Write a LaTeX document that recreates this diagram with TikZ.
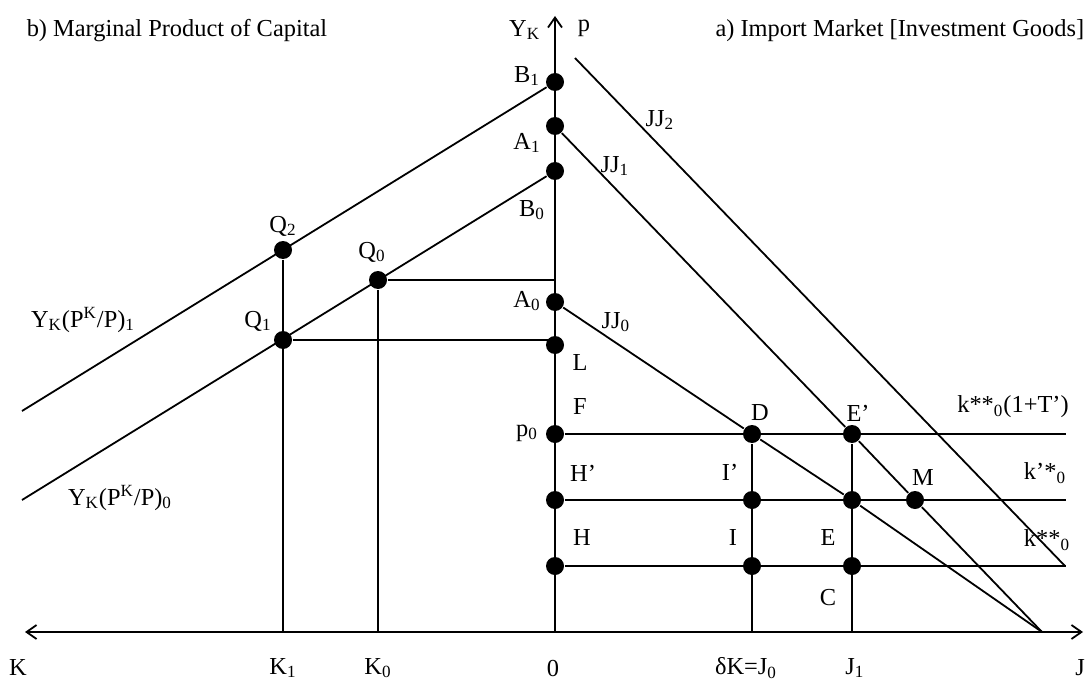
\documentclass[tikz,border=0pt]{standalone}
\usepackage{fontspec}
\setmainfont{Liberation Serif}
\usetikzlibrary{arrows.meta}
\tikzstyle{eqdot} = [circle, fill=black, inner sep=0pt, minimum size=9pt]
\tikzstyle{arrow} = [-{Straight Barb[length=5pt,width=7pt]}]
\tikzstyle{lab} = [inner sep=1pt]

\begin{document}
\begin{tikzpicture}[x=0.5pt, y=-0.5pt, line width=0.9pt, font=\fontsize{12.2}{14}\selectfont]
    \useasboundingbox (0,0) rectangle (1090,684);
    % Axes
    \coordinate (O) at (555,632);
    \coordinate (Ktip) at (25,632);
    \coordinate (Jtip) at (1083,632);
    \coordinate (Ytip) at (555,16);
    \coordinate (Jend) at (1042,632);
    \draw[arrow] (O) -- (Ktip);
    \draw[arrow] (O) -- (Jtip);
    \draw[arrow] (O) -- (Ytip);
    % Dots on the vertical axis
    \node[eqdot] (B1) at (555,82) {};
    \node[eqdot] (A1) at (555,126) {};
    \node[eqdot] (B0) at (555,171) {};
    \node[eqdot] (A0) at (555,302) {};
    \node[eqdot] (L) at (555,345) {};
    \node[eqdot] (p0) at (555,434) {};
    \node[eqdot] (Hp) at (555,500) {};
    \node[eqdot] (H) at (555,566) {};
    % Dots in the import market
    \node[eqdot] (D) at (752,434) {};
    \node[eqdot] (Ep) at (852,434) {};
    \node[eqdot] (Ip) at (752,500) {};
    \node[eqdot] (Em) at (852,500) {};
    \node[eqdot] (M) at (915,500) {};
    \node[eqdot] (I) at (752,566) {};
    \node[eqdot] (E) at (852,566) {};
    % Dots on the marginal product curves
    \node[eqdot] (Q2) at (283,250) {};
    \node[eqdot] (Q0) at (378,280) {};
    \node[eqdot] (Q1) at (283,340) {};
    % Marginal product curves
    \coordinate (mpk1) at (22,411);
    \coordinate (mpk0) at (22,500);
    \draw (mpk1) -- (B1);
    \draw (mpk0) -- (B0);
    \draw (Q2) -- (Q2 |- O);
    \draw (Q0) -- (Q0 |- O);
    \draw (Q0) -- (Q0 -| O);
    \draw (Q1) -- (Q1 -| O);
    % Import demand curves
    \coordinate (jj2) at (575,58);
    \coordinate (jj2end) at (1065,566);
    \coordinate (kT) at (1066,434);
    \coordinate (kp) at (1066,500);
    \coordinate (kss) at (1066,566);
    \draw (A0) -- (D) -- (Em) -- (Jend);
    \draw (A1) -- (Ep) -- (M) -- (Jend);
    \draw (jj2) -- (jj2end);
    \draw (p0) -- (kT);
    \draw (Hp) -- (kp);
    \draw (H) -- (kss);
    \draw (D) -- (D |- O);
    \draw (Ep) -- (Ep |- O);
    % Titles
    \node[lab] (tb) at (177,31) {b) Marginal Product of Capital};
    \node[lab, anchor=east] (ta) at (1087,31) {a) Import Market [Investment Goods]};
    \node[lab, anchor=east] (lYK) at (543,30) {Y\textsubscript{K}};
    \node[lab] (lp) at (584,28) {p};
    % Labels on the vertical axis
    \node[lab] (lB1) at (527,76) {B\textsubscript{1}};
    \node[lab] (lA1) at (527,143) {A\textsubscript{1}};
    \node[lab] (lB0) at (532,210) {B\textsubscript{0}};
    \node[lab] (lA0) at (527,301) {A\textsubscript{0}};
    \node[lab] (lL) at (580,363) {L};
    \node[lab] (lF) at (580,407) {F};
    \node[lab] (lp0) at (527,433) {p\textsubscript{0}};
    \node[lab] (lHp) at (583,473) {H’};
    \node[lab] (lH) at (582,538) {H};
    % Labels in the import market
    \node[lab] (lJJ2) at (660,120) {JJ\textsubscript{2}};
    \node[lab] (lJJ1) at (615,166) {JJ\textsubscript{1}};
    \node[lab] (lJJ0) at (616,322) {JJ\textsubscript{0}};
    \node[lab] (lD) at (760,413) {D};
    \node[lab] (lEp) at (858,413) {E’};
    \node[lab] (lIp) at (730,472) {I’};
    \node[lab] (lM) at (923,478) {M};
    \node[lab] (lI) at (733,538) {I};
    \node[lab] (lE) at (828,538) {E};
    \node[lab] (lC) at (828,598) {C};
    \node[lab] (lkT) at (1013,407) {k**\textsubscript{0}(1+T’)};
    \node[lab] (lkp) at (1045,473) {k’*\textsubscript{0}};
    \node[lab] (lkss) at (1047,540) {k**\textsubscript{0}};
    % Labels in the marginal product panel
    \node[lab] (lQ2) at (283,226) {Q\textsubscript{2}};
    \node[lab] (lQ0) at (372,252) {Q\textsubscript{0}};
    \node[lab] (lQ1) at (258,321) {Q\textsubscript{1}};
    \node[lab] (lmpk1) at (83,320) {Y\textsubscript{K}(P\textsuperscript{K}/P)\textsubscript{1}};
    \node[lab] (lmpk0) at (120,498) {Y\textsubscript{K}(P\textsuperscript{K}/P)\textsubscript{0}};
    % Labels on the horizontal axis
    \node[lab] (lK) at (18,668) {K};
    \node[lab] (lK1) at (283,668) {K\textsubscript{1}};
    \node[lab] (lK0) at (378,668) {K\textsubscript{0}};
    \node[lab] (l0) at (553,668) {0};
    \node[lab] (lJ0) at (746,668) {δK=J\textsubscript{0}};
    \node[lab] (lJ1) at (855,668) {J\textsubscript{1}};
    \node[lab] (lJ) at (1080,668) {J};
\end{tikzpicture}
\end{document}
